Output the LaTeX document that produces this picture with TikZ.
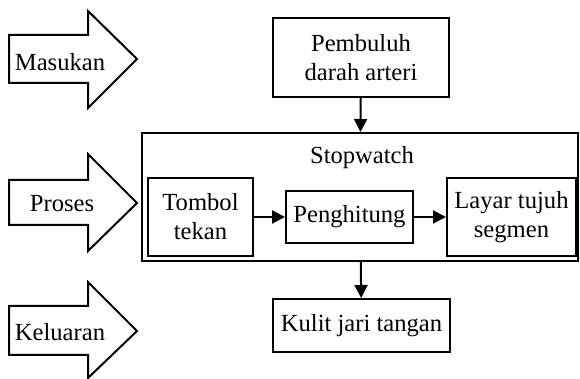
\documentclass[tikz,border=0pt]{standalone}
\usepackage{fontspec}
\setmainfont{Liberation Serif}
\usetikzlibrary{graphs}
\usetikzlibrary{arrows.meta}

\begin{document}
\begin{tikzpicture} [x=0.5pt, y=-0.5pt, line width=1pt,
        every node/.style={align=center, inner sep=0pt, font=\fontsize{12.3}{14.5}\selectfont},
        box/.style={draw, line width=1pt},
        >={Triangle[length=6.5pt,width=6.5pt]}]
            \useasboundingbox (0,0) rectangle (580,379);

            % block arrows on the left
            \draw (9,35) -- (88,35) -- (88,11) -- (137,59) -- (88,108) -- (88,83) -- (9,83) -- cycle;
            \draw (9,180) -- (88,180) -- (88,154) -- (137,203) -- (88,251) -- (88,225) -- (9,225) -- cycle;
            \draw (9,306) -- (88,306) -- (88,282) -- (137,331) -- (88,378) -- (88,355) -- (9,355) -- cycle;
            \node (masukan) at (60, 62)    {Masukan};
            \node (proses) at (62, 204)    {Proses};
            \node (keluaran) at (60, 332)  {Keluaran};

            \node[box, minimum width=88pt, minimum height=39.5pt] (pembuluh) at (361, 57.5)   {Pembuluh\\darah arteri};
            \node[box, minimum width=218pt, minimum height=64pt] (stopwatch) at (360, 197)   {};
            \node (swlabel) at (362, 158)   {Stopwatch};
            \node[box, minimum width=52.5pt, minimum height=39pt] (tombol) at (200.5, 217)   {Tombol\\tekan};
            \node[box, minimum width=63.5pt, minimum height=26pt] (penghitung) at (349.5, 217)   {Penghitung};
            \node[box, minimum width=64.5pt, minimum height=39pt] (layar) at (511.5, 217)   {Layar tujuh\\segmen};
            \node[box, minimum width=88.5pt, minimum height=26.5pt] (kulit) at (361.5, 325.5)   {Kulit jari tangan};

            \graph {
                (pembuluh) -> (stopwatch) -> (kulit);
                (tombol) -> (penghitung) -> (layar);
            };
        \end{tikzpicture}
\end{document}
